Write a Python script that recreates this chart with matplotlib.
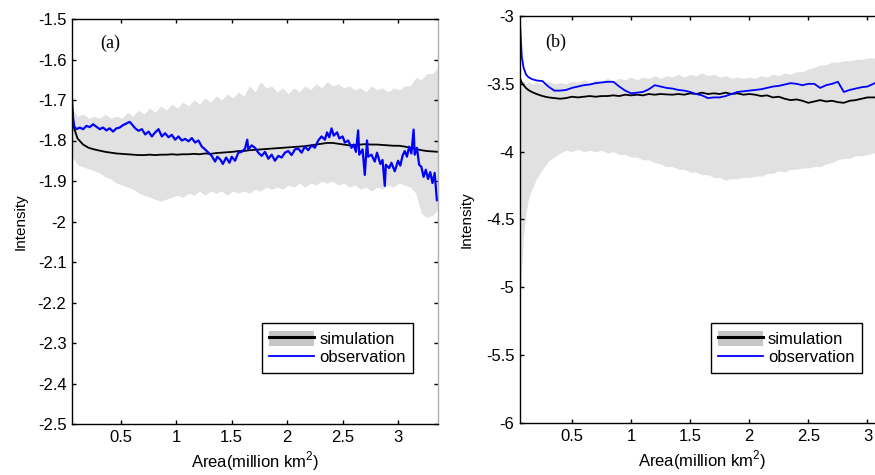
"""Two-panel intensity vs. area plot: simulation envelope and mean vs observation."""

import matplotlib

matplotlib.use("Agg")
import matplotlib.pyplot as plt
from matplotlib.lines import Line2D
from matplotlib.patches import Patch

plt.rcParams["font.family"] = ["Liberation Sans", "DejaVu Sans"]
plt.rcParams["mathtext.fontset"] = "custom"
plt.rcParams["mathtext.rm"] = "Liberation Sans"

# ---------------------------------------------------------------------------
# Panel (a)
# ---------------------------------------------------------------------------
A_X = [0.06, 0.11, 0.16, 0.21, 0.26, 0.31, 0.36, 0.41, 0.46, 0.51, 0.56, 0.61,
       0.66, 0.71, 0.76, 0.81, 0.86, 0.91, 0.96, 1.01, 1.06, 1.11, 1.16, 1.21,
       1.26, 1.31, 1.36, 1.41, 1.46, 1.51, 1.56, 1.61, 1.66, 1.71, 1.76, 1.81,
       1.86, 1.91, 1.96, 2.01, 2.06, 2.11, 2.16, 2.21, 2.26, 2.31, 2.36, 2.41,
       2.46, 2.51, 2.56, 2.61, 2.66, 2.71, 2.76, 2.81, 2.86, 2.91, 2.96, 3.01,
       3.06, 3.11, 3.16, 3.21, 3.26, 3.31, 3.36]
A_BAND_HI = [-1.72, -1.74, -1.735, -1.745, -1.74, -1.745, -1.735, -1.745, -1.74,
             -1.745, -1.73, -1.74, -1.725, -1.735, -1.72, -1.73, -1.715, -1.725,
             -1.71, -1.72, -1.705, -1.715, -1.70, -1.71, -1.695, -1.705, -1.69,
             -1.70, -1.685, -1.695, -1.68, -1.69, -1.665, -1.68, -1.655, -1.67,
             -1.665, -1.68, -1.67, -1.685, -1.67, -1.68, -1.665, -1.675, -1.66,
             -1.67, -1.655, -1.665, -1.66, -1.67, -1.665, -1.675, -1.67, -1.68,
             -1.665, -1.675, -1.67, -1.68, -1.67, -1.675, -1.665, -1.665, -1.645,
             -1.65, -1.635, -1.635, -1.62]
A_BAND_LO = [-1.84, -1.86, -1.865, -1.87, -1.875, -1.88, -1.89, -1.895, -1.905,
             -1.91, -1.915, -1.92, -1.93, -1.935, -1.94, -1.945, -1.95, -1.945,
             -1.94, -1.935, -1.94, -1.93, -1.935, -1.925, -1.935, -1.925, -1.93,
             -1.925, -1.935, -1.925, -1.93, -1.925, -1.93, -1.92, -1.925, -1.915,
             -1.92, -1.915, -1.92, -1.91, -1.915, -1.905, -1.915, -1.905, -1.91,
             -1.90, -1.905, -1.90, -1.91, -1.905, -1.915, -1.91, -1.92, -1.915,
             -1.925, -1.915, -1.92, -1.91, -1.915, -1.905, -1.91, -1.915, -1.93,
             -1.98, -1.99, -1.985, -1.97]
A_SIM = [-1.755, -1.795, -1.81, -1.818, -1.822, -1.825, -1.828, -1.83, -1.832,
         -1.833, -1.834, -1.835, -1.836, -1.836, -1.835, -1.836, -1.835, -1.835,
         -1.834, -1.835, -1.834, -1.834, -1.833, -1.834, -1.832, -1.833, -1.831,
         -1.83, -1.829, -1.828, -1.826, -1.826, -1.824, -1.823, -1.822, -1.821,
         -1.82, -1.819, -1.818, -1.817, -1.816, -1.815, -1.814, -1.812, -1.81,
         -1.808, -1.806, -1.806, -1.808, -1.81, -1.812, -1.811, -1.81, -1.809,
         -1.81, -1.81, -1.811, -1.812, -1.813, -1.813, -1.815, -1.818, -1.821,
         -1.824, -1.826, -1.827, -1.828]

A_OBS_X = [0.06, 0.07, 0.08, 0.10, 0.13, 0.16, 0.19, 0.22, 0.25, 0.28, 0.31, 0.34,
           0.37, 0.40, 0.43, 0.46, 0.49, 0.52, 0.55, 0.58, 0.60, 0.63, 0.66, 0.69,
           0.72, 0.75, 0.78, 0.81, 0.84, 0.87, 0.90, 0.93, 0.96, 0.99, 1.02, 1.05,
           1.08, 1.11, 1.14, 1.17, 1.20, 1.23, 1.26, 1.29, 1.32, 1.35, 1.37, 1.40,
           1.42, 1.45, 1.48, 1.50, 1.53, 1.56, 1.59, 1.62, 1.64, 1.65, 1.68, 1.71,
           1.74, 1.77, 1.80, 1.83, 1.86, 1.89, 1.92, 1.95, 1.98, 2.01, 2.04, 2.07,
           2.10, 2.13, 2.16, 2.19, 2.22, 2.25, 2.28, 2.31, 2.34, 2.36, 2.38, 2.40,
           2.42, 2.45, 2.47, 2.50, 2.52, 2.55, 2.58, 2.60, 2.62, 2.64, 2.65, 2.68,
           2.70, 2.72, 2.73, 2.76, 2.79, 2.81, 2.84, 2.86, 2.88, 2.89, 2.92, 2.94,
           2.97, 3.00, 3.02, 3.04, 3.06, 3.08, 3.10, 3.12, 3.14, 3.15, 3.17, 3.19,
           3.21, 3.23, 3.25, 3.27, 3.29, 3.31, 3.33, 3.35, 3.36]
A_OBS = [-1.70, -1.745, -1.765, -1.772, -1.768, -1.772, -1.764, -1.767, -1.760,
         -1.766, -1.772, -1.768, -1.775, -1.770, -1.778, -1.770, -1.768, -1.762,
         -1.758, -1.754, -1.760, -1.770, -1.776, -1.772, -1.785, -1.778, -1.790,
         -1.780, -1.772, -1.790, -1.782, -1.792, -1.786, -1.798, -1.790, -1.800,
         -1.796, -1.802, -1.794, -1.805, -1.800, -1.815, -1.822, -1.830, -1.838,
         -1.852, -1.840, -1.848, -1.858, -1.842, -1.855, -1.840, -1.850, -1.830,
         -1.828, -1.820, -1.798, -1.822, -1.812, -1.818, -1.830, -1.838, -1.828,
         -1.845, -1.835, -1.850, -1.838, -1.842, -1.830, -1.826, -1.836, -1.822,
         -1.820, -1.830, -1.815, -1.824, -1.812, -1.818, -1.800, -1.790, -1.798,
         -1.780, -1.792, -1.770, -1.788, -1.780, -1.795, -1.790, -1.805, -1.800,
         -1.818, -1.810, -1.828, -1.775, -1.835, -1.822, -1.885, -1.800, -1.840,
         -1.835, -1.852, -1.830, -1.858, -1.848, -1.912, -1.860, -1.868, -1.855,
         -1.876, -1.850, -1.862, -1.838, -1.826, -1.840, -1.815, -1.832, -1.773,
         -1.835, -1.818, -1.860, -1.865, -1.890, -1.872, -1.895, -1.878, -1.905,
         -1.880, -1.948, -1.945]

# ---------------------------------------------------------------------------
# Panel (b)
# ---------------------------------------------------------------------------
B_X = [0.06, 0.075, 0.09, 0.11, 0.13, 0.16, 0.20, 0.25, 0.30, 0.35, 0.40, 0.45,
       0.50, 0.55, 0.60, 0.65, 0.70, 0.75, 0.80, 0.85, 0.90, 0.95, 1.00, 1.05,
       1.10, 1.15, 1.20, 1.25, 1.30, 1.35, 1.40, 1.45, 1.50, 1.55, 1.60, 1.65,
       1.70, 1.75, 1.80, 1.85, 1.90, 1.95, 2.00, 2.05, 2.10, 2.15, 2.20, 2.25,
       2.30, 2.35, 2.40, 2.45, 2.50, 2.55, 2.60, 2.65, 2.70, 2.75, 2.80, 2.85,
       2.90, 2.95, 3.00, 3.05, 3.10, 3.15, 3.20]
B_BAND_HI = [-3.47, -3.49, -3.48, -3.50, -3.48, -3.50, -3.49, -3.50, -3.48, -3.50,
             -3.49, -3.50, -3.48, -3.49, -3.47, -3.49, -3.47, -3.48, -3.46, -3.48,
             -3.46, -3.47, -3.45, -3.47, -3.45, -3.46, -3.44, -3.46, -3.44, -3.45,
             -3.43, -3.45, -3.43, -3.44, -3.42, -3.44, -3.43, -3.45, -3.44, -3.46,
             -3.45, -3.46, -3.45, -3.46, -3.44, -3.45, -3.43, -3.44, -3.42, -3.43,
             -3.41, -3.41, -3.39, -3.38, -3.36, -3.36, -3.34, -3.34, -3.33, -3.33,
             -3.32, -3.32, -3.31, -3.31, -3.30, -3.31, -3.30]
B_BAND_LO = [-5.10, -4.85, -4.62, -4.45, -4.36, -4.28, -4.20, -4.13, -4.07, -4.04,
             -4.01, -3.99, -4.00, -3.98, -4.00, -3.99, -4.00, -3.99, -4.01, -4.00,
             -4.02, -4.02, -4.04, -4.04, -4.06, -4.06, -4.08, -4.09, -4.11, -4.11,
             -4.13, -4.13, -4.15, -4.15, -4.17, -4.17, -4.19, -4.19, -4.21, -4.20,
             -4.20, -4.19, -4.19, -4.18, -4.18, -4.16, -4.16, -4.14, -4.15, -4.13,
             -4.13, -4.12, -4.12, -4.11, -4.11, -4.09, -4.08, -4.06, -4.05, -4.05,
             -4.03, -4.03, -4.02, -4.01, -4.01, -4.00, -4.00]
B_SIM = [-3.46, -3.49, -3.51, -3.53, -3.545, -3.56, -3.575, -3.59, -3.60, -3.605,
         -3.61, -3.605, -3.595, -3.60, -3.595, -3.59, -3.595, -3.59, -3.59, -3.585,
         -3.59, -3.58, -3.585, -3.58, -3.585, -3.575, -3.58, -3.575, -3.578, -3.58,
         -3.575, -3.58, -3.57, -3.575, -3.565, -3.575, -3.57, -3.575, -3.565,
         -3.575, -3.57, -3.58, -3.575, -3.58, -3.59, -3.585, -3.60, -3.595, -3.61,
         -3.62, -3.615, -3.625, -3.64, -3.63, -3.62, -3.63, -3.625, -3.635, -3.64,
         -3.625, -3.62, -3.61, -3.60, -3.60, -3.60, -3.60, -3.60]
B_OBS = [-3.05, -3.30, -3.38, -3.43, -3.45, -3.465, -3.475, -3.48, -3.52, -3.55,
         -3.55, -3.545, -3.53, -3.52, -3.51, -3.505, -3.495, -3.49, -3.485, -3.485,
         -3.52, -3.55, -3.57, -3.565, -3.56, -3.54, -3.51, -3.52, -3.53, -3.535,
         -3.545, -3.55, -3.56, -3.575, -3.585, -3.605, -3.60, -3.60, -3.59, -3.575,
         -3.56, -3.555, -3.55, -3.545, -3.54, -3.53, -3.52, -3.515, -3.505, -3.495,
         -3.50, -3.51, -3.50, -3.50, -3.53, -3.51, -3.50, -3.485, -3.56, -3.545,
         -3.535, -3.525, -3.52, -3.50, -3.48, -3.48, -3.48]

BAND_COLOR = "#e1e1e1"
LEGEND_BAND = "#c6c6c6"
OBS_COLOR = "#0000ff"
FS = 12


def draw_panel(ax, x, lo, hi, sim, obs_x, obs, obs_lw):
    ax.fill_between(x, lo, hi, color=BAND_COLOR, lw=0)
    ax.plot(x, sim, color="black", lw=1.3)
    ax.plot(obs_x, obs, color=OBS_COLOR, lw=obs_lw)
    ax.tick_params(direction="in", length=3, width=1, labelsize=FS,
                   top=True, right=True, pad=4)
    for s in ax.spines.values():
        s.set_linewidth(1.0)
    ax.set_xticks([0.5, 1, 1.5, 2, 2.5, 3])
    ax.set_xticklabels(["0.5", "1", "1.5", "2", "2.5", "3"])
    ax.set_xlim(0.06, 3.36)
    ax.set_ylabel("Intensity", fontsize=11)
    ax.set_xlabel("Area(million km$^2$)", fontsize=FS)
    handles = [(Patch(facecolor=LEGEND_BAND, edgecolor="none"),
                Line2D([], [], color="black", lw=2.2)),
               Line2D([], [], color=OBS_COLOR, lw=1.3)]
    return handles


fig = plt.figure(figsize=(8.75, 4.75), dpi=100)
ax_a = fig.add_axes([72 / 875, 51 / 475, 366 / 875, 405 / 475])
ax_b = fig.add_axes([520 / 875, 52 / 475, 390 / 875, 407 / 475])

h = draw_panel(ax_a, A_X, A_BAND_LO, A_BAND_HI, A_SIM, A_OBS_X, A_OBS, 1.6)
ax_a.set_ylim(-2.5, -1.5)
ax_a.set_yticks([-2.5, -2.4, -2.3, -2.2, -2.1, -2, -1.9, -1.8, -1.7, -1.6, -1.5])
ax_a.set_yticklabels(["-2.5", "-2.4", "-2.3", "-2.2", "-2.1", "-2", "-1.9",
                      "-1.8", "-1.7", "-1.6", "-1.5"])
ax_a.spines["right"].set_color("#b0b0b0")
ax_a.yaxis.set_label_coords(-0.12, 0.5)
ax_a.xaxis.set_label_coords(0.5, -0.062)
ax_a.text(0.077, 0.94, "(a)", transform=ax_a.transAxes, fontsize=13,
          family=["Liberation Serif", "DejaVu Serif"], va="center")

draw_panel(ax_b, B_X, B_BAND_LO, B_BAND_HI, B_SIM, B_X, B_OBS, 1.3)
ax_b.set_ylim(-6, -3)
ax_b.set_yticks([-6, -5.5, -5, -4.5, -4, -3.5, -3])
ax_b.set_yticklabels(["-6", "-5.5", "-5", "-4.5", "-4", "-3.5", "-3"])
ax_b.yaxis.set_label_coords(-0.12, 0.5)
ax_b.xaxis.set_label_coords(0.468, -0.062)
ax_b.text(0.064, 0.936, "(b)", transform=ax_b.transAxes, fontsize=13,
          family=["Liberation Serif", "DejaVu Serif"], va="center")

for ax, anchor in ((ax_a, (0.932, 0.126)), (ax_b, (0.877, 0.123))):
    leg = ax.legend(h, ["simulation", "observation"], loc="lower right",
                    bbox_to_anchor=anchor, fontsize=FS, fancybox=False,
                    framealpha=1, edgecolor="black", handlelength=2.7,
                    handleheight=1.0, handletextpad=0.3, labelspacing=0.15,
                    borderpad=0.45, borderaxespad=0)
    leg.get_frame().set_linewidth(1.0)

fig.savefig("out.png", dpi=100)
